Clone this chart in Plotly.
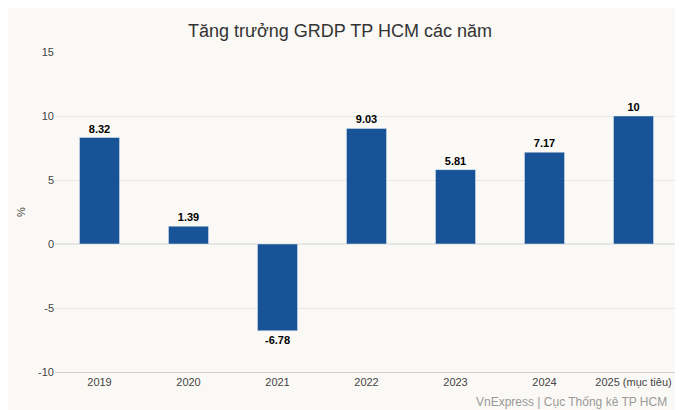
import plotly.graph_objects as go

years = ["2019", "2020", "2021", "2022", "2023", "2024", "2025 (mục tiêu)"]
growth = [8.32, 1.39, -6.78, 9.03, 5.81, 7.17, 10]
labels = ["8.32", "1.39", "-6.78", "9.03", "5.81", "7.17", "10"]
yticks = [-10, -5, 0, 5, 10, 15]
yticktext = ["-10", "-5", "0", "5", "10", "15"]

fig = go.Figure(go.Bar(
    x=years, y=growth, width=0.45, marker_color="#175396",
    text=labels, textposition="outside", cliponaxis=False,
    textfont=dict(size=11, color="#000", family="Arial", weight="bold"),
))
fig.update_layout(
    width=683, height=410,
    margin=dict(l=40, r=13, t=44, b=46),
    paper_bgcolor="#fbf9f5", plot_bgcolor="#fbf9f5",
    font=dict(family="Arial", size=11, color="#444"),
    title=dict(text="Tăng trưởng GRDP TP HCM các năm", x=0.486, xref="container", y=0.96, xanchor="center",
               font=dict(size=18, color="#333")),
    showlegend=False,
    xaxis=dict(showgrid=False, showline=True, linecolor="#ccc", ticks="", tickfont=dict(size=11, color="#444")),
    yaxis=dict(range=[-10, 15], tickvals=yticks, ticktext=yticktext, gridcolor="#e6e6e6",
               zeroline=True, zerolinecolor="#e6e6e6",
               title=dict(text="%", font=dict(size=11, color="#444"), standoff=10),
               tickfont=dict(size=11, color="#444")),
    annotations=[dict(text="VnExpress | Cục Thống kê TP HCM", xref="paper", yref="paper",
                      x=0.985, y=-0.065, xanchor="right", yanchor="top", showarrow=False,
                      font=dict(size=12, color="#999"))],
)
fig.write_html("out.html")
